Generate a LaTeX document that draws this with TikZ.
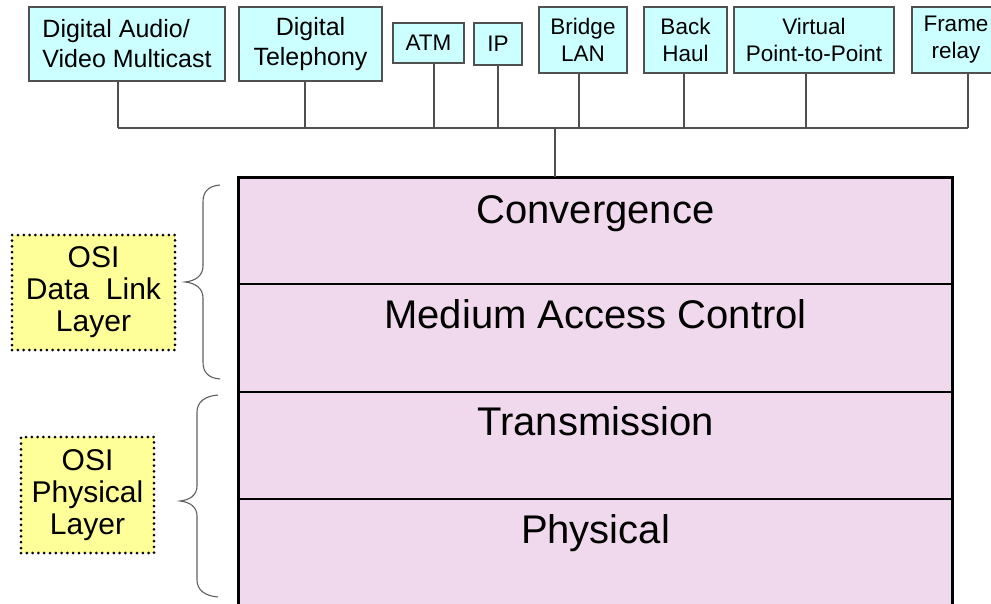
\documentclass[tikz,border=0pt]{standalone}
\usepackage{fontspec}
\setmainfont{Liberation Sans}
\usetikzlibrary{calc,decorations.markings}
\definecolor{cyanbox}{RGB}{204,255,255}
\definecolor{layerfill}{RGB}{240,217,237}
\definecolor{osiyellow}{RGB}{255,255,153}
\definecolor{linegray}{RGB}{80,80,80}
\definecolor{bracegray}{RGB}{95,95,95}
\begin{document}
\begin{tikzpicture}[x=1pt,y=-1pt,
  svc/.style={draw=linegray, line width=1.1pt, fill=cyanbox, inner sep=0pt, align=center,
              font=\fontsize{22.5}{27}\selectfont},
  bigsvc/.style={svc, font=\fontsize{25}{30}\selectfont},
  conn/.style={draw=linegray, line width=1.1pt},
  layerbox/.style={draw=black, line width=1.2pt, fill=layerfill, minimum width=713pt, inner sep=0pt},
  layertitle/.style={anchor=base, inner sep=0pt, font=\fontsize{40}{46}\selectfont},
  osibox/.style={fill=osiyellow, inner sep=0pt, align=center, font=\fontsize{30}{32}\selectfont,
                 postaction={decorate, decoration={markings,
                   mark=between positions 0 and 1 step 5.8pt with {\fill[black] (0,0) circle (1.5pt);}}}},
  bracepath/.style={draw=bracegray, line width=1.1pt}]
\useasboundingbox (0,0) rectangle (991,603);

% service boxes
\node[bigsvc, align=left, minimum width=196pt, minimum height=74pt] (b1) at (127,44) {Digital Audio/\\Video Multicast};
\node[bigsvc, minimum width=143pt, minimum height=74pt] (b2) at (310.5,44) {Digital\\Telephony};
\node[svc, minimum width=71pt, minimum height=40pt] (atm) at (428.5,43) {ATM};
\node[svc, minimum width=48pt, minimum height=42pt] (ip) at (498,44) {IP};
\node[svc, minimum width=88pt, minimum height=66pt] (bridge) at (583,40) {Bridge\\LAN};
\node[svc, minimum width=83pt, minimum height=66pt] (back) at (685.5,40) {Back\\Haul};
\node[svc, minimum width=160pt, minimum height=66pt] (virt) at (814,40) {Virtual\\Point-to-Point};
\node[svc, minimum width=88pt, minimum height=66pt] (frame) at (956,40) {Frame\\relay};

% layers
\node[layerbox, minimum height=106pt] (conv) at (595.5,231) {};
\node[layerbox, minimum height=108pt] (mac) at (595.5,338) {};
\node[layerbox, minimum height=107pt] (trans) at (595.5,445.5) {};
\node[layerbox, minimum height=111pt] (phys) at (595.5,554.5) {};
\draw[line width=3pt] (conv.north west) rectangle (phys.south east);
\node[layertitle] (tconv) at (595.5,223) {Convergence};
\node[layertitle] (tmac) at (595.5,328) {Medium Access Control};
\node[layertitle] (ttrans) at (595.5,435) {Transmission};
\node[layertitle] (tphys) at (595.5,543) {Physical};

% connectors
\coordinate (bus) at (0,128);
\foreach \n/\dx in {b1/-9, b2/-5.5, atm/5.5, ip/0, bridge/-4, back/-1.5, virt/-8, frame/12}{
  \coordinate (t\n) at ([xshift=\dx pt]\n.south);
  \draw[conn] (t\n) -- (t\n |- bus);
}
\draw[conn] (tb1 |- bus) -- (tframe |- bus);
\coordinate (drop) at (555,128);
\draw[conn] (drop) -- (drop |- conv.north);

% OSI boxes
\node[osibox, minimum width=163pt, minimum height=115pt] (dll) at (93.5,292.5) {OSI\\Data~ Link\\Layer};
\node[osibox, minimum width=133pt, minimum height=116pt] (phl) at (87.5,495) {OSI\\Physical\\Layer};

% braces
\draw[bracepath] (220,185) .. controls (208,186) and (203,192) .. (203,202) -- (203,266)
  .. controls (203,276) and (195,281) .. (185,282)
  .. controls (195,283) and (203,288) .. (203,298) -- (203,362)
  .. controls (203,372) and (208,378) .. (220,379);
\draw[bracepath] (218,395) .. controls (205,396) and (197,402) .. (197,412) -- (197,486)
  .. controls (197,495) and (190,500) .. (180,501)
  .. controls (190,502) and (197,507) .. (197,516) -- (197,580)
  .. controls (197,590) and (205,596) .. (218,597);
\end{tikzpicture}
\end{document}
